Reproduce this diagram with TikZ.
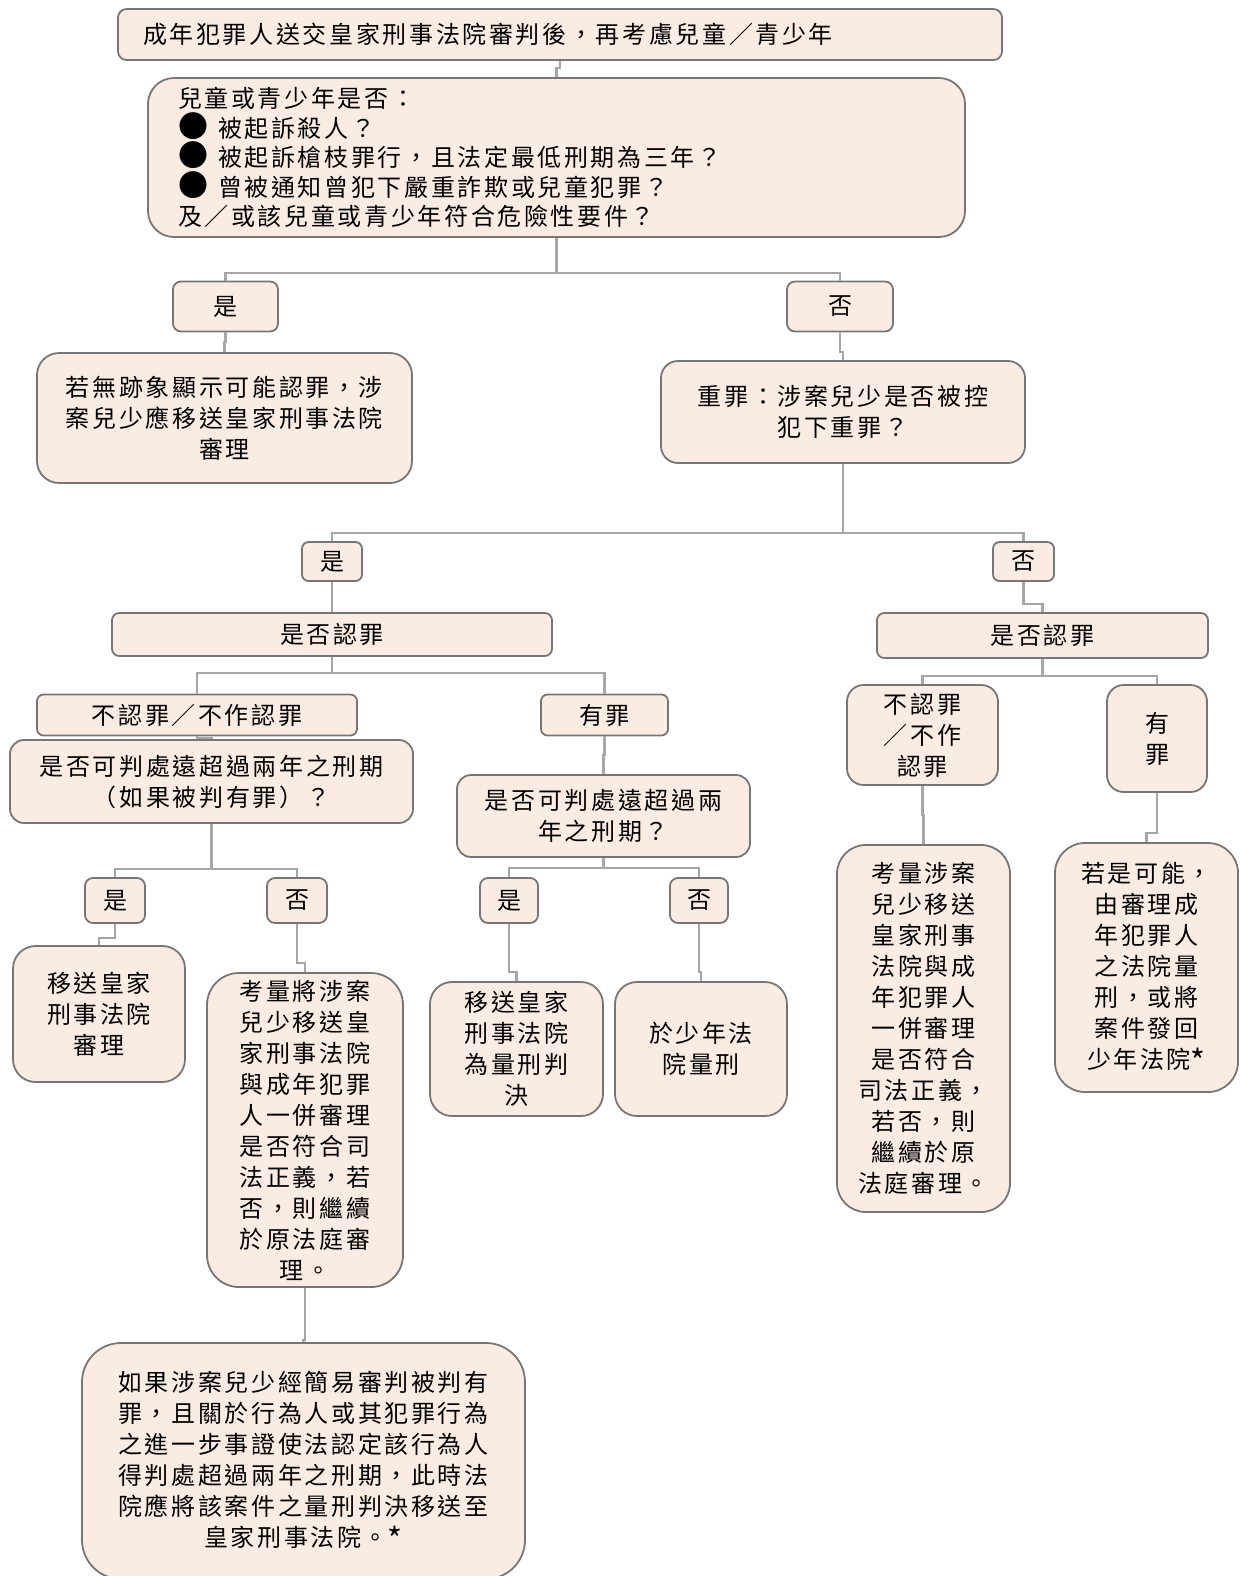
\documentclass[tikz,border=0pt]{standalone}
\usepackage{fontspec}
\newfontfamily\cjk{Noto Sans CJK TC}[LetterSpace=11]
\usetikzlibrary{positioning,calc}
\definecolor{Peach}{HTML}{FBECE3}
\definecolor{Edge}{HTML}{767676}
\definecolor{Wire}{HTML}{A6A6A6}
\newcommand{\notemark}{\raisebox{-2.5pt}{\fontsize{16}{15.5}\selectfont *}}

\begin{document}
\begin{tikzpicture}[x=0.5pt,y=-0.5pt,
  card/.style={draw=Edge,line width=0.9pt,fill=Peach,rounded corners=#1,inner sep=0pt,align=center},
  card/.default=4pt,
  wh/.style 2 args={minimum width={#1*0.5pt},minimum height={#2*0.5pt}},
  link/.style={Wire,line width=1.2pt},
  every node/.style={font=\cjk\fontsize{12}{15.5}\selectfont}]
\useasboundingbox (0,0) rectangle (1240,1576);
% top of the chart
\node[card=4.3pt,wh={884}{51},text width=417pt,inner xsep=12.5pt,align=left] (start) at (560,34.5)
 {成年犯罪人送交皇家刑事法院審判後，再考慮兒童／青少年};
\node[card=13pt,wh={817}{159},text width=378.5pt,inner xsep=15pt,align=left,
 font=\cjk\fontsize{12}{14.75}\selectfont] (crit) at (556.5,157.5)
 {兒童或青少年是否：\\
  {\fontsize{15}{14.75}\selectfont ●}\hspace{5pt}被起訴殺人？\\
  {\fontsize{15}{14.75}\selectfont ●}\hspace{5pt}被起訴槍枝罪行，且法定最低刑期為三年？\\
  {\fontsize{15}{14.75}\selectfont ●}\hspace{5pt}曾被通知曾犯下嚴重詐欺或兒童犯罪？\\
  及／或該兒童或青少年符合危險性要件？};
\node[card,wh={105}{50}] (yes1) at (225.5,306.5) {是};
\node[card,wh={106}{50}] (no1) at (840,306.5) {否};
\node[card=11pt,wh={375}{130}] (crown1) at (224.5,418)
 {若無跡象顯示可能認罪，涉\\案兒少應移送皇家刑事法院\\審理};
\node[card=8.5pt,wh={364}{102}] (serious) at (843,412)
 {重罪：涉案兒少是否被控\\犯下重罪？};
% serious offence branch
\node[card=3.3pt,wh={60}{39}] (yes2) at (332,561.5) {是};
\node[card=3.3pt,wh={61}{39}] (no2) at (1023.5,561.5) {否};
\node[card=3.6pt,wh={440}{43}] (plea1) at (332,634.5) {是否認罪};
\node[card=3.6pt,wh={331}{45}] (plea2) at (1042.5,635.5) {是否認罪};
\node[card=3.3pt,wh={320}{41}] (deny1) at (197,715) {不認罪／不作認罪};
\node[card=3.3pt,wh={127}{41}] (guilty1) at (604.5,715) {有罪};
\node[card=7pt,wh={403}{83}] (q2left) at (211.5,781.5)
 {是否可判處遠超過兩年之刑期\\（如果被判有罪）？};
\node[card=7pt,wh={293}{82}] (q2mid) at (603.5,816)
 {是否可判處遠超過兩\\年之刑期？};
\node[card=8.3pt,wh={151}{100}] (deny2) at (922.5,735) {不認罪\\／不作\\認罪};
\node[card=8.3pt,wh={100}{107}] (guilty2) at (1157,738.5) {有\\罪};
\node[card,wh={60}{45}] (yes3) at (115,900.5) {是};
\node[card,wh={60}{45}] (no3) at (297,900.5) {否};
\node[card,wh={58}{45}] (yes4) at (509,900.5) {是};
\node[card,wh={58}{45}] (no4) at (699,900.5) {否};
% outcomes
\node[card=11.3pt,wh={172}{136}] (crown2) at (99,1014) {移送皇家\\刑事法院\\審理};
\node[card=16pt,wh={196}{314}] (joint1) at (305,1130)
 {考量將涉案\\兒少移送皇\\家刑事法院\\與成年犯罪\\人一併審理\\是否符合司\\法正義，若\\否，則繼續\\於原法庭審\\理。};
\node[card=11pt,wh={173}{134}] (crown3) at (516.5,1049) {移送皇家\\刑事法院\\為量刑判\\決};
\node[card=11pt,wh={172}{134}] (youth) at (701,1049) {於少年法\\院量刑};
\node[card=14.4pt,wh={173}{367}] (joint2) at (923.5,1028.5)
 {考量涉案\\兒少移送\\皇家刑事\\法院與成\\年犯罪人\\一併審理\\是否符合\\司法正義，\\若否，則\\繼續於原\\法庭審理。};
\node[card=15pt,wh={183}{249}] (remit) at (1146.5,967.5)
 {若是可能，\\由審理成\\年犯罪人\\之法院量\\刑，或將\\案件發回\\少年法院\notemark};
\node[card=19.5pt,wh={443}{236}] (summary) at (303.5,1461)
 {如果涉案兒少經簡易審判被判有\\罪，且關於行為人或其犯罪行為\\之進一步事證使法認定該行為人\\得判處超過兩年之刑期，此時法\\院應將該案件之量刑判決移送至\\皇家刑事法院。\notemark};
% connectors
\draw[link] (start.south) -- (start.south |- 0,68) -| (crit.north);
\draw[link] (crit.south) -- (crit.south |- 0,273);
\draw[link] (yes1.north) |- (crit.south |- 0,273) -| (no1.north);
\draw[link] (yes1.south) -- (yes1.south |- 0,342) -| (crown1.north);
\draw[link] (no1.south) -- (no1.south |- 0,352) -| (serious.north);
\draw[link] (serious.south) -- (serious.south |- 0,533);
\draw[link] (yes2.north) |- (serious.south |- 0,533) -| (no2.north);
\draw[link] (yes2.south) -- (plea1.north);
\draw[link] (no2.south) -- (no2.south |- 0,604) -| (plea2.north);
\draw[link] (plea1.south) -- (plea1.south |- 0,673);
\draw[link] (deny1.north) |- (plea1.south |- 0,673) -| (guilty1.north);
\draw[link] (deny1.south) -- (deny1.south |- 0,738) -| (q2left.north);
\draw[link] (guilty1.south) -- (guilty1.south |- 0,755) -| (q2mid.north);
\draw[link] (q2left.south) -- (q2left.south |- 0,869);
\draw[link] (yes3.north) |- (q2left.south |- 0,869) -| (no3.north);
\draw[link] (q2mid.south) -- (q2mid.south |- 0,868);
\draw[link] (yes4.north) |- (q2mid.south |- 0,868) -| (no4.north);
\draw[link] (yes3.south) -- (yes3.south |- 0,938) -| (crown2.north);
\draw[link] (no3.south) -- (no3.south |- 0,963) -| (joint1.north);
\draw[link] (yes4.south) -- (yes4.south |- 0,972) -| (crown3.north);
\draw[link] (no4.south) -- (no4.south |- 0,972) -| (youth.north);
\draw[link] (plea2.south) -- (plea2.south |- 0,676);
\draw[link] (deny2.north) |- (plea2.south |- 0,676) -| (guilty2.north);
\draw[link] (deny2.south) -- (deny2.south |- 0,815) -| (joint2.north);
\draw[link] (guilty2.south) -- (guilty2.south |- 0,833) -| (remit.north);
\draw[link] (joint1.south) -- (joint1.south |- 0,1340) -| (summary.north);
\end{tikzpicture}
\end{document}
